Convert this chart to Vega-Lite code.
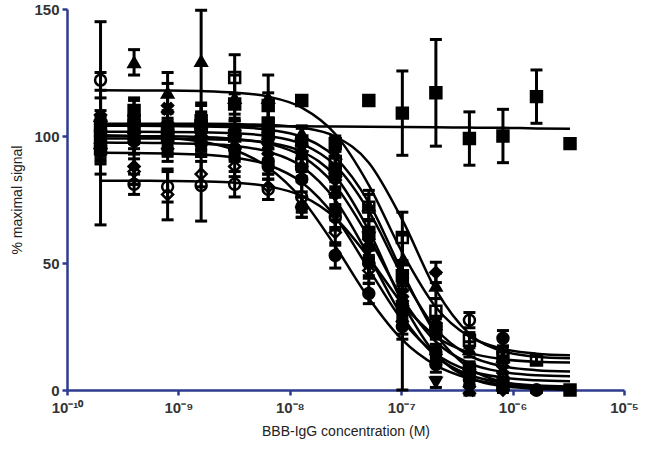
{
  "$schema": "https://vega.github.io/schema/vega-lite/v6.json",
  "width": 557,
  "height": 381,
  "autosize": {"type": "none"},
  "padding": {"left": 67, "top": 9, "right": 24, "bottom": 63},
  "background": "white",
  "config": {"view": {"stroke": null}, "font": "Liberation Sans"},
  "data": {"values": [
    {"s":"tri","c":2e-10,"f":118.0,"y":108,"e":10},
    {"s":"tri","c":4e-10,"f":117.9,"y":129,"e":5},
    {"s":"tri","c":8e-10,"f":117.9,"y":117,"e":8},
    {"s":"tri","c":1.6e-9,"f":117.7,"y":129.5,"e":20},
    {"s":"tri","c":3.2e-9,"f":117.1,"y":115,"e":9},
    {"s":"tri","c":6.4e-9,"f":115.5,"y":115,"e":9},
    {"s":"tri","c":1.28e-8,"f":111.2,"y":101,"e":3},
    {"s":"tri","c":2.56e-8,"f":100.8,"y":93,"e":4},
    {"s":"tri","c":5.12e-8,"f":80.7,"y":72.6,"e":6},
    {"s":"tri","c":1.024e-7,"f":54.1,"y":51,"e":10},
    {"s":"tri","c":2.048e-7,"f":32.6,"y":41,"e":5},
    {"s":"tri","c":4.096e-7,"f":21.0,"y":16,"e":3},
    {"s":"tri","c":8.192e-7,"f":16.2,"y":13,"e":2},
    {"s":"tri","c":1.6384e-6,"f":14.3,"y":null,"e":null},
    {"s":"tri","c":3.2768e-6,"f":13.7,"y":null,"e":null},

    {"s":"osq","c":2e-10,"f":104.8,"y":100,"e":8},
    {"s":"osq","c":4e-10,"f":104.8,"y":104,"e":6},
    {"s":"osq","c":8e-10,"f":104.8,"y":103,"e":7},
    {"s":"osq","c":1.6e-9,"f":104.8,"y":106,"e":6},
    {"s":"osq","c":3.2e-9,"f":104.7,"y":123,"e":9},
    {"s":"osq","c":6.4e-9,"f":104.4,"y":105,"e":7},
    {"s":"osq","c":1.28e-8,"f":103.3,"y":89,"e":3},
    {"s":"osq","c":2.56e-8,"f":99.8,"y":90,"e":4},
    {"s":"osq","c":5.12e-8,"f":89.5,"y":72,"e":5},
    {"s":"osq","c":1.024e-7,"f":67.0,"y":60,"e":10},
    {"s":"osq","c":2.048e-7,"f":39.4,"y":31,"e":5},
    {"s":"osq","c":4.096e-7,"f":22.1,"y":19.6,"e":3},
    {"s":"osq","c":8.192e-7,"f":15.3,"y":13,"e":2},
    {"s":"osq","c":1.6384e-6,"f":13.1,"y":11.8,"e":1.5},
    {"s":"osq","c":3.2768e-6,"f":12.5,"y":null,"e":null},

    {"s":"fsq","c":2e-10,"f":104.0,"y":95,"e":30},
    {"s":"fsq","c":4e-10,"f":104.0,"y":106,"e":8},
    {"s":"fsq","c":8e-10,"f":103.9,"y":100,"e":6},
    {"s":"fsq","c":1.6e-9,"f":103.8,"y":104,"e":9},
    {"s":"fsq","c":3.2e-9,"f":103.5,"y":100,"e":6},
    {"s":"fsq","c":6.4e-9,"f":102.5,"y":101,"e":6},
    {"s":"fsq","c":1.28e-8,"f":99.6,"y":98,"e":5},
    {"s":"fsq","c":2.56e-8,"f":91.6,"y":86,"e":6},
    {"s":"fsq","c":5.12e-8,"f":73.8,"y":62,"e":5},
    {"s":"fsq","c":1.024e-7,"f":46.4,"y":45,"e":6},
    {"s":"fsq","c":2.048e-7,"f":22.0,"y":24,"e":4},
    {"s":"fsq","c":4.096e-7,"f":8.6,"y":8,"e":3},
    {"s":"fsq","c":8.192e-7,"f":3.2,"y":2,"e":2},
    {"s":"fsq","c":1.6384e-6,"f":1.3,"y":null,"e":null},
    {"s":"fsq","c":3.2768e-6,"f":0.6,"y":0,"e":1},

    {"s":"xcr","c":2e-10,"f":101.7,"y":107,"e":8},
    {"s":"xcr","c":4e-10,"f":101.7,"y":103,"e":6},
    {"s":"xcr","c":8e-10,"f":101.6,"y":110.7,"e":10},
    {"s":"xcr","c":1.6e-9,"f":101.5,"y":100,"e":7},
    {"s":"xcr","c":3.2e-9,"f":101.1,"y":101,"e":6},
    {"s":"xcr","c":6.4e-9,"f":100.0,"y":100,"e":5},
    {"s":"xcr","c":1.28e-8,"f":96.9,"y":95,"e":4},
    {"s":"xcr","c":2.56e-8,"f":88.4,"y":84,"e":5},
    {"s":"xcr","c":5.12e-8,"f":70.4,"y":58,"e":6},
    {"s":"xcr","c":1.024e-7,"f":44.9,"y":38,"e":7},
    {"s":"xcr","c":2.048e-7,"f":24.1,"y":25,"e":4},
    {"s":"xcr","c":4.096e-7,"f":13.5,"y":0,"e":2},
    {"s":"xcr","c":8.192e-7,"f":9.3,"y":8,"e":3},
    {"s":"xcr","c":1.6384e-6,"f":7.8,"y":null,"e":null},
    {"s":"xcr","c":3.2768e-6,"f":7.3,"y":null,"e":null},

    {"s":"dia","c":2e-10,"f":100.0,"y":97,"e":6},
    {"s":"dia","c":4e-10,"f":99.95,"y":88,"e":7},
    {"s":"dia","c":8e-10,"f":99.9,"y":95,"e":5},
    {"s":"dia","c":1.6e-9,"f":99.6,"y":100,"e":8},
    {"s":"dia","c":3.2e-9,"f":98.9,"y":95,"e":5},
    {"s":"dia","c":6.4e-9,"f":97.0,"y":93,"e":4},
    {"s":"dia","c":1.28e-8,"f":92.1,"y":88,"e":4},
    {"s":"dia","c":2.56e-8,"f":80.5,"y":77,"e":5},
    {"s":"dia","c":5.12e-8,"f":60.0,"y":56,"e":5},
    {"s":"dia","c":1.024e-7,"f":36.1,"y":35,"e":7},
    {"s":"dia","c":2.048e-7,"f":19.0,"y":46.3,"e":4},
    {"s":"dia","c":4.096e-7,"f":10.5,"y":8,"e":3},
    {"s":"dia","c":8.192e-7,"f":7.1,"y":0,"e":1},
    {"s":"dia","c":1.6384e-6,"f":5.8,"y":null,"e":null},
    {"s":"dia","c":3.2768e-6,"f":5.4,"y":null,"e":null},

    {"s":"tdn","c":2e-10,"f":99.0,"y":93,"e":8},
    {"s":"tdn","c":4e-10,"f":99.0,"y":99,"e":6},
    {"s":"tdn","c":8e-10,"f":98.95,"y":97,"e":5},
    {"s":"tdn","c":1.6e-9,"f":98.8,"y":101,"e":7},
    {"s":"tdn","c":3.2e-9,"f":98.5,"y":98,"e":5},
    {"s":"tdn","c":6.4e-9,"f":97.4,"y":95,"e":4},
    {"s":"tdn","c":1.28e-8,"f":93.9,"y":92,"e":5},
    {"s":"tdn","c":2.56e-8,"f":84.1,"y":82,"e":6},
    {"s":"tdn","c":5.12e-8,"f":62.8,"y":60,"e":7},
    {"s":"tdn","c":1.024e-7,"f":34.5,"y":31,"e":31},
    {"s":"tdn","c":2.048e-7,"f":14.0,"y":3,"e":2},
    {"s":"tdn","c":4.096e-7,"f":4.8,"y":null,"e":null},
    {"s":"tdn","c":8.192e-7,"f":1.5,"y":null,"e":null},
    {"s":"tdn","c":1.6384e-6,"f":0.5,"y":null,"e":null},
    {"s":"tdn","c":3.2768e-6,"f":0.1,"y":null,"e":null},

    {"s":"fc2","c":2e-10,"f":97.4,"y":96,"e":7},
    {"s":"fc2","c":4e-10,"f":97.3,"y":98,"e":5},
    {"s":"fc2","c":8e-10,"f":97.2,"y":99,"e":6},
    {"s":"fc2","c":1.6e-9,"f":96.9,"y":97,"e":5},
    {"s":"fc2","c":3.2e-9,"f":96.1,"y":95,"e":4},
    {"s":"fc2","c":6.4e-9,"f":93.8,"y":90,"e":5},
    {"s":"fc2","c":1.28e-8,"f":88.0,"y":83,"e":5},
    {"s":"fc2","c":2.56e-8,"f":74.8,"y":70,"e":6},
    {"s":"fc2","c":5.12e-8,"f":52.7,"y":50,"e":6},
    {"s":"fc2","c":1.024e-7,"f":29.0,"y":32,"e":5},
    {"s":"fc2","c":2.048e-7,"f":13.3,"y":15,"e":3},
    {"s":"fc2","c":4.096e-7,"f":5.9,"y":8,"e":2},
    {"s":"fc2","c":8.192e-7,"f":2.9,"y":20.4,"e":3},
    {"s":"fc2","c":1.6384e-6,"f":1.8,"y":0,"e":1},
    {"s":"fc2","c":3.2768e-6,"f":1.4,"y":null,"e":null},

    {"s":"odia","c":2e-10,"f":93.4,"y":95,"e":5},
    {"s":"odia","c":4e-10,"f":93.3,"y":86,"e":5},
    {"s":"odia","c":8e-10,"f":93.1,"y":77,"e":10},
    {"s":"odia","c":1.6e-9,"f":92.7,"y":85,"e":5},
    {"s":"odia","c":3.2e-9,"f":91.5,"y":88,"e":4},
    {"s":"odia","c":6.4e-9,"f":88.6,"y":80,"e":5},
    {"s":"odia","c":1.28e-8,"f":81.8,"y":72,"e":4},
    {"s":"odia","c":2.56e-8,"f":68.1,"y":62,"e":5},
    {"s":"odia","c":5.12e-8,"f":47.6,"y":47,"e":5},
    {"s":"odia","c":1.024e-7,"f":27.4,"y":27,"e":5},
    {"s":"odia","c":2.048e-7,"f":14.2,"y":14,"e":3},
    {"s":"odia","c":4.096e-7,"f":7.6,"y":7,"e":2},
    {"s":"odia","c":8.192e-7,"f":4.9,"y":5,"e":2},
    {"s":"odia","c":1.6384e-6,"f":3.8,"y":null,"e":null},
    {"s":"odia","c":3.2768e-6,"f":3.4,"y":null,"e":null},

    {"s":"ocirc","c":2e-10,"f":82.4,"y":122,"e":23},
    {"s":"ocirc","c":4e-10,"f":82.4,"y":81,"e":4},
    {"s":"ocirc","c":8e-10,"f":82.3,"y":80,"e":6},
    {"s":"ocirc","c":1.6e-9,"f":82.1,"y":80.5,"e":14},
    {"s":"ocirc","c":3.2e-9,"f":81.6,"y":81,"e":5},
    {"s":"ocirc","c":6.4e-9,"f":80.2,"y":79,"e":4},
    {"s":"ocirc","c":1.28e-8,"f":76.4,"y":76,"e":6},
    {"s":"ocirc","c":2.56e-8,"f":67.7,"y":68,"e":5},
    {"s":"ocirc","c":5.12e-8,"f":52.1,"y":50,"e":5},
    {"s":"ocirc","c":1.024e-7,"f":34.0,"y":34,"e":5},
    {"s":"ocirc","c":2.048e-7,"f":21.1,"y":25,"e":4},
    {"s":"ocirc","c":4.096e-7,"f":14.7,"y":27.5,"e":3},
    {"s":"ocirc","c":8.192e-7,"f":12.1,"y":15,"e":2},
    {"s":"ocirc","c":1.6384e-6,"f":11.1,"y":null,"e":null},
    {"s":"ocirc","c":3.2768e-6,"f":10.8,"y":null,"e":null},

    {"s":"fc","c":2e-10,"f":100.3,"y":100,"e":7},
    {"s":"fc","c":4e-10,"f":100.0,"y":99,"e":6},
    {"s":"fc","c":8e-10,"f":99.3,"y":98,"e":5},
    {"s":"fc","c":1.6e-9,"f":97.8,"y":97,"e":5},
    {"s":"fc","c":3.2e-9,"f":94.5,"y":95,"e":4},
    {"s":"fc","c":6.4e-9,"f":87.6,"y":88,"e":5},
    {"s":"fc","c":1.28e-8,"f":75.2,"y":72,"e":4},
    {"s":"fc","c":2.56e-8,"f":56.6,"y":53,"e":5},
    {"s":"fc","c":5.12e-8,"f":36.1,"y":38,"e":4},
    {"s":"fc","c":1.024e-7,"f":19.7,"y":25,"e":5},
    {"s":"fc","c":2.048e-7,"f":9.7,"y":10,"e":3},
    {"s":"fc","c":4.096e-7,"f":4.5,"y":4,"e":2},
    {"s":"fc","c":8.192e-7,"f":2.0,"y":1,"e":1},
    {"s":"fc","c":1.6384e-6,"f":0.9,"y":0,"e":1},
    {"s":"fc","c":3.2768e-6,"f":0.4,"y":null,"e":null},

    {"s":"flat","c":2e-10,"f":104.0,"y":104,"e":6},
    {"s":"flat","c":4e-10,"f":104.0,"y":110,"e":5},
    {"s":"flat","c":8e-10,"f":104.0,"y":101,"e":6},
    {"s":"flat","c":1.6e-9,"f":103.9,"y":104,"e":5},
    {"s":"flat","c":3.2e-9,"f":103.9,"y":112.6,"e":4},
    {"s":"flat","c":6.4e-9,"f":103.8,"y":112,"e":5},
    {"s":"flat","c":1.28e-8,"f":103.8,"y":114,"e":1},
    {"s":"flat","c":2.56e-8,"f":103.7,"y":97,"e":3},
    {"s":"flat","c":5.12e-8,"f":103.6,"y":114,"e":1},
    {"s":"flat","c":1.024e-7,"f":103.5,"y":109,"e":16.6},
    {"s":"flat","c":2.048e-7,"f":103.4,"y":117,"e":21},
    {"s":"flat","c":4.096e-7,"f":103.3,"y":99,"e":10.5},
    {"s":"flat","c":8.192e-7,"f":103.2,"y":100,"e":10.5},
    {"s":"flat","c":1.6384e-6,"f":103.0,"y":115.5,"e":10.5},
    {"s":"flat","c":3.2768e-6,"f":102.9,"y":97,"e":1}
  ]},
  "encoding": {
    "x": {
      "field": "c", "type": "quantitative",
      "scale": {"type": "log", "domain": [1e-10, 1e-5]},
      "axis": {
        "title": "BBB-IgG concentration (M)",
        "titleFont": "Liberation Sans", "titleFontWeight": "normal", "titleFontSize": 14, "titleColor": "#222222", "titlePadding": 9,
        "values": [1e-10, 1e-9, 1e-8, 1e-7, 1e-6, 1e-5],
        "labelExpr": "['10⁻¹⁰','10⁻⁹','10⁻⁸','10⁻⁷','10⁻⁶','10⁻⁵'][round(log(datum.value)/LN10)+10]",
        "labelFont": "Liberation Sans", "labelFontWeight": "bold", "labelFontSize": 15, "labelColor": "#333333", "labelPadding": 5,
        "domainColor": "#2e3b8f", "domainWidth": 2.5, "tickColor": "#2e3b8f", "tickWidth": 2.5, "tickSize": 5,
        "grid": false, "labelFlush": false
      }
    }
  },
  "layer": [
    {
      "mark": {"type": "line", "color": "black", "strokeWidth": 2.5, "interpolate": "monotone"},
      "encoding": {
        "y": {
          "field": "f", "type": "quantitative",
          "scale": {"domain": [0, 150], "nice": false},
          "title": "% maximal signal",
          "axis": {
            "title": "% maximal signal",
            "titleFont": "Liberation Sans", "titleFontWeight": "normal", "titleFontSize": 14, "titleColor": "#222222", "titlePadding": 9,
            "values": [0, 50, 100, 150],
            "labelFont": "Liberation Sans", "labelFontWeight": "bold", "labelFontSize": 15, "labelColor": "#333333", "labelPadding": 3,
            "domainColor": "#2e3b8f", "domainWidth": 2.5, "tickColor": "#2e3b8f", "tickWidth": 2.5, "tickSize": 5,
            "grid": false
          }
        },
        "detail": {"field": "s"}
      }
    },
    {
      "transform": [{"filter": "isValid(datum.y)"}],
      "mark": {"type": "errorbar", "color": "black", "opacity": 1, "ticks": {"size": 12, "thickness": 3, "color": "black", "opacity": 1}, "rule": {"strokeWidth": 3, "color": "black", "opacity": 1}},
      "encoding": {
        "y": {"field": "y", "type": "quantitative", "title": "% maximal signal"},
        "yError": {"field": "e"},
        "detail": {"field": "s"}
      }
    },
    {
      "transform": [{"filter": "isValid(datum.y)"}],
      "mark": {"type": "point", "filled": true, "size": 120, "stroke": "black", "strokeWidth": 2.5, "opacity": 1},
      "encoding": {
        "y": {"field": "y", "type": "quantitative", "title": "% maximal signal"},
        "shape": {
          "field": "s", "type": "nominal", "legend": null,
          "scale": {
            "domain": ["tri","osq","fsq","xcr","dia","tdn","fc2","odia","ocirc","fc","flat"],
            "range": ["triangle-up","square","square","M-1,-0.6L-0.6,-1L0,-0.4L0.6,-1L1,-0.6L0.4,0L1,0.6L0.6,1L0,0.4L-0.6,1L-1,0.6L-0.4,0Z","diamond","triangle-down","circle","diamond","circle","circle","square"]
          }
        },
        "fill": {
          "field": "s", "type": "nominal", "legend": null,
          "scale": {
            "domain": ["tri","osq","fsq","xcr","dia","tdn","fc2","odia","ocirc","fc","flat"],
            "range": ["black","transparent","black","black","black","black","black","transparent","transparent","black","black"]
          }
        }
      }
    }
  ]
}
